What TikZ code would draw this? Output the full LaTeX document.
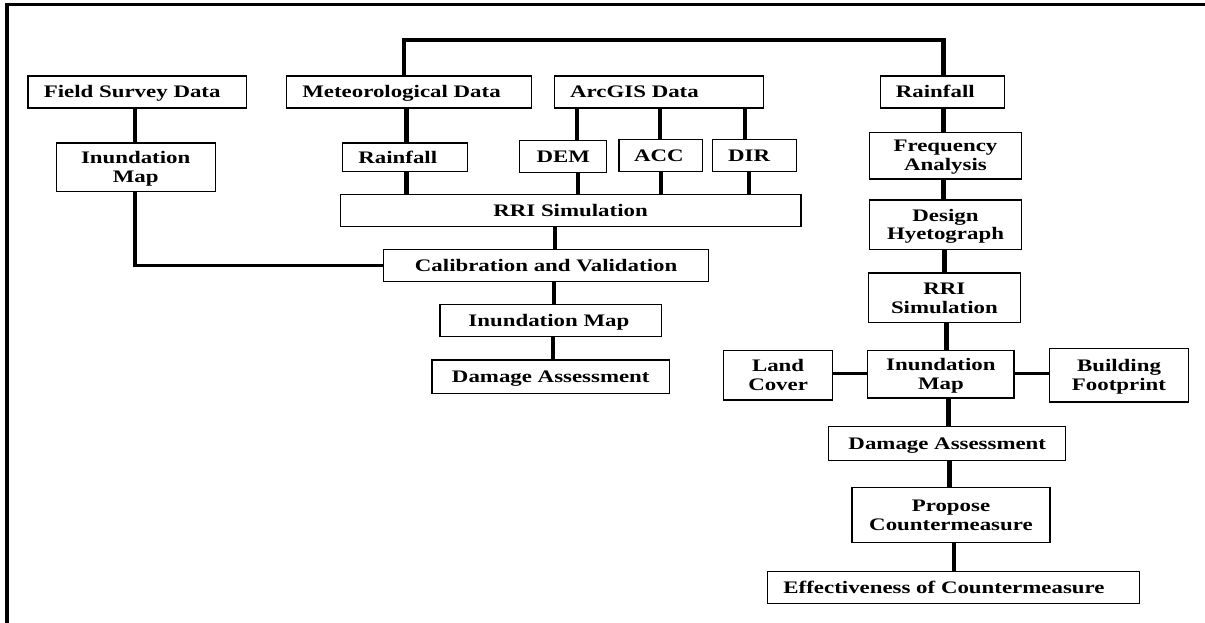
\documentclass[tikz,border=0pt]{standalone}
\usepackage{fontspec}
\setmainfont[FakeStretch=1.3]{Liberation Serif}
\newcommand\mybox[6]{\node[box, one, minimum width=#4pt, minimum height=#5pt] (#1) at (#2,#3) {#6};}
\newcommand\mytwo[7]{\node[box, minimum width=#4pt, minimum height=#5pt] (#1) at (#2,#3) {\rule{0pt}{15pt}#6\\#7\rule[-3.4pt]{0pt}{3.4pt}};}
\begin{document}
\begin{tikzpicture}[x=1pt,y=-1pt,
  box/.style={draw, line width=1.2pt, inner sep=0pt, align=center,
    font=\fontsize{17.6}{18.8}\selectfont\bfseries},
  one/.style={text height=15pt, text depth=3.4pt},
  vl/.style={line width=4.4pt},
  hl/.style={line width=3.2pt}]
\useasboundingbox (0,0) rectangle (1205,623);
% frame
\draw[line width=3.6pt] (6.7,700) -- (6.7,3.5);
\draw[line width=3pt] (4.9,5) -- (1300,5);
% boxes
\mybox{fs}{137.2}{92}{218.5}{32}{Field Survey Data\hspace*{10pt}}
\mybox{met}{409}{92}{244.9}{32}{Meteorological Data\hspace*{15pt}}
\mybox{arc}{659}{92}{209.1}{32}{ArcGIS Data\hspace*{49pt}}
\mybox{rainR}{942.6}{92}{124.3}{32}{Rainfall\hspace*{14.6pt}}
\mytwo{inL}{135.7}{167.4}{158.8}{48.7}{Inundation}{Map}
\mybox{rainM}{405}{157.4}{124.3}{28.7}{Rainfall\hspace*{14.4pt}}
\mybox{dem}{563.2}{156.5}{86.9}{32.4}{DEM}
\mybox{acc}{660.8}{155.7}{83.7}{32}{ACC\hspace*{4pt}}
\mybox{dir}{754.6}{155.7}{83.7}{32}{DIR\hspace*{11pt}}
\mybox{rriM}{570.6}{210.7}{460.8}{32}{RRI Simulation}
\mybox{cal}{546.1}{265.7}{324.6}{32}{Calibration and Validation}
\mybox{inM}{550.9}{320.5}{221.7}{32.4}{Inundation Map\hspace*{4pt}}
\mybox{dmM}{550.8}{376.9}{237.5}{33.7}{Damage Assessment}
\mytwo{freq}{945.5}{155.7}{152.4}{46.7}{Frequency}{Analysis}
\mytwo{des}{945.5}{224.9}{152.4}{49.7}{Design}{Hyetograph}
\mytwo{rriR}{944.4}{297.9}{152.4}{49.7}{RRI}{Simulation}
\mytwo{land}{778.1}{375.4}{109.2}{49.3}{Land}{Cover}
\mytwo{inR}{940.9}{374.4}{146.2}{47.3}{Inundation}{Map}
\mytwo{bld}{1119}{375.2}{138.9}{53.7}{Building}{Footprint}
\mybox{dmR}{947.3}{443.3}{236.9}{34}{Damage Assessment}
\mytwo{prop}{951}{515.2}{197.9}{55}{Propose}{Countermeasure}
\mybox{eff}{953.5}{587.3}{371.9}{32}{Effectiveness of Countermeasure\hspace*{19pt}}
% top bracket
\coordinate (b1) at (403.7,40);
\coordinate (b2) at (943.4,40);
\draw[vl] (b1 |- met.north) -- ([yshift=1.6pt]b1);
\draw[hl] (b1) -- (b2);
\draw[vl] ([yshift=1.6pt]b2) -- (b2 |- rainR.north);
% left branch
\coordinate (c1) at (135.1,265.7);
\draw[vl] (fs.south -| c1) -- (inL.north -| c1);
\draw[vl] (inL.south -| c1) -- ([yshift=-1.6pt]c1);
\draw[hl] (c1) -- (cal.west);
% middle
\draw[vl] ([xshift=1.4pt]rainM.north) -- ([xshift=1.4pt]rainM.north |- met.south);
\draw[vl] ([xshift=13.8pt]dem.north) -- ([xshift=13.8pt]dem.north |- arc.south);
\draw[vl] ([xshift=-1pt]acc.north) -- ([xshift=-1pt]acc.north |- arc.south);
\draw[vl] ([xshift=-9.8pt]dir.north) -- ([xshift=-9.8pt]dir.north |- arc.south);
\draw[vl] ([xshift=1.4pt]rainM.south) -- ([xshift=1.4pt]rainM.south |- rriM.north);
\draw[vl] ([xshift=15pt]dem.south) -- ([xshift=15pt]dem.south |- rriM.north);
\draw[vl] (acc.south) -- (acc.south |- rriM.north);
\draw[vl] ([xshift=-5.7pt]dir.south) -- ([xshift=-5.7pt]dir.south |- rriM.north);
\draw[vl] ([xshift=8.8pt]cal.north) -- ([xshift=8.8pt]cal.north |- rriM.south);
\draw[vl] ([xshift=2.8pt]inM.north) -- ([xshift=2.8pt]inM.north |- cal.south);
\draw[vl] ([xshift=2.2pt]dmM.north) -- ([xshift=2.2pt]dmM.north |- inM.south);
% right column
\draw[vl] ([xshift=0.8pt]rainR.south) -- ([xshift=0.8pt]rainR.south |- freq.north);
\draw[vl] ([xshift=-2.1pt]freq.south) -- ([xshift=-2.1pt]freq.south |- des.north);
\draw[vl] ([xshift=-0.9pt]des.south) -- ([xshift=-0.9pt]des.south |- rriR.north);
\draw[vl] ([xshift=2.1pt]rriR.south) -- ([xshift=2.1pt]rriR.south |- inR.north);
\draw[vl] ([xshift=1.2pt]dmR.north) -- ([xshift=1.2pt]dmR.north |- inR.south);
\draw[vl] ([xshift=-1.4pt]prop.north) -- ([xshift=-1.4pt]prop.north |- dmR.south);
\draw[vl] ([xshift=0.7pt]eff.north) -- ([xshift=0.7pt]eff.north |- prop.south);
\draw[hl] ([yshift=2pt]land.east) -- ([yshift=2pt]land.east -| inR.west);
\draw[hl] ([yshift=1pt]inR.east) -- ([yshift=1pt]inR.east -| bld.west);
\end{tikzpicture}
\end{document}
